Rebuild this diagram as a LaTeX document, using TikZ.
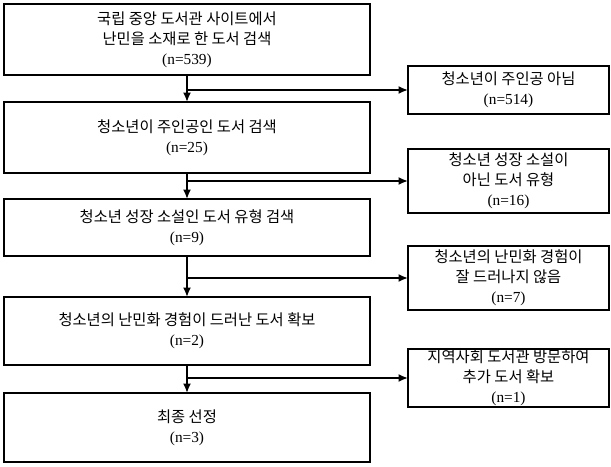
\documentclass[tikz,border=0pt]{standalone}
\usepackage{fontspec}
\setmainfont{Liberation Serif}
\newfontfamily\kr{Noto Sans CJK KR}
\usetikzlibrary{arrows.meta}

\begin{document}
\begin{tikzpicture}[x=0.75pt, y=-0.75pt,
    stagebox/.style={draw, line width=1pt, minimum width=274.5pt, align=center,
        inner sep=0pt, outer sep=0pt, font=\fontsize{11.5}{15}\selectfont},
    dropbox/.style={draw, line width=1pt, minimum width=150.75pt, align=center,
        inner sep=0pt, outer sep=0pt, font=\fontsize{11.5}{15}\selectfont},
    flow/.style={line width=1.5pt, -{Latex[length=7pt, width=6pt]}}]
    \useasboundingbox (0,0) rectangle (611,467);

    % main column
    \node[stagebox, minimum height=53.25pt] (S1) at (187, 39.5)
        {{\kr 국립 중앙 도서관 사이트에서}\\{\kr 난민을 소재로 한 도서 검색}\\(n=539)};
    \node[stagebox, minimum height=53.25pt] (S2) at (187, 137.5)
        {{\kr 청소년이 주인공인 도서 검색}\\(n=25)};
    \node[stagebox, minimum height=42.75pt] (S3) at (187, 227.5)
        {{\kr 청소년 성장 소설인 도서 유형 검색}\\(n=9)};
    \node[stagebox, minimum height=51pt] (S4) at (187, 331)
        {{\kr 청소년의 난민화 경험이 드러난 도서 확보}\\(n=2)};
    \node[stagebox, minimum height=51.75pt] (S5) at (187, 427.5)
        {{\kr 최종 선정}\\(n=3)};

    % side column
    \node[dropbox, minimum height=36pt] (R1) at (508.5, 90)
        {{\kr 청소년이 주인공 아님}\\(n=514)};
    \node[dropbox, minimum height=48pt] (R2) at (508.5, 181)
        {{\kr 청소년 성장 소설이}\\{\kr 아닌 도서 유형}\\(n=16)};
    \node[dropbox, minimum height=48pt] (R3) at (508.5, 278)
        {{\kr 청소년의 난민화 경험이}\\{\kr 잘 드러나지 않음}\\(n=7)};
    \node[dropbox, minimum height=43.5pt] (R4) at (508.5, 378)
        {{\kr 지역사회 도서관 방문하여}\\{\kr 추가 도서 확보}\\(n=1)};

    \draw[flow] (S1.south) -- (S2.north);
    \draw[flow] (S2.south) -- (S3.north);
    \draw[flow] (S3.south) -- (S4.north);
    \draw[flow] (S4.south) -- (S5.north);

    \draw[flow] (S1.south |- R1.west) -- (R1.west);
    \draw[flow] (S2.south |- R2.west) -- (R2.west);
    \draw[flow] (S3.south |- R3.west) -- (R3.west);
    \draw[flow] (S4.south |- R4.west) -- (R4.west);
\end{tikzpicture}
\end{document}
